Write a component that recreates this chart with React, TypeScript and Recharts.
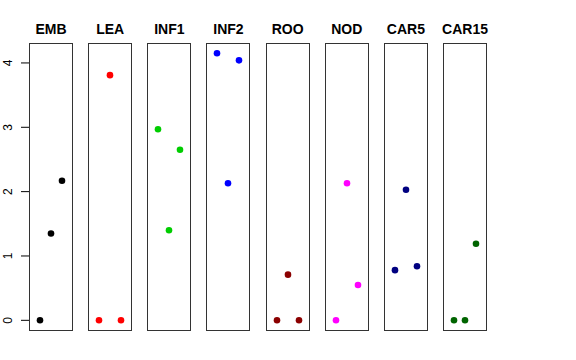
import React from 'react';
import { ScatterChart, Scatter, XAxis, YAxis } from 'recharts';

const panels = ['EMB', 'LEA', 'INF1', 'INF2', 'ROO', 'NOD', 'CAR5', 'CAR15'];
const colors = ['#000000', '#FF0000', '#00CD00', '#0000FF', '#8B0000', '#FF00FF', '#000080', '#006400'];
const rep1 = [0, 0, 2.97, 4.15, 0, 0, 0.78, 0];
const rep2 = [1.35, 3.81, 1.4, 2.13, 0.71, 2.13, 2.03, 0];
const rep3 = [2.17, 0, 2.65, 4.04, 0, 0.55, 0.84, 1.19];
const yTicks = [0, 1, 2, 3, 4];

const PANEL_LEFT = 29;
const PANEL_STEP = 59.15;
const PANEL_W = 44;
const PANEL_TOP = 43;
const PANEL_H = 288;
const Y_DOMAIN: [number, number] = [-0.166, 4.31];
const FONT = '"Liberation Sans", Arial, Helvetica, sans-serif';

const Dot = (props: any) => {
  const { cx, cy, fill } = props;
  return <circle cx={cx} cy={cy} r={3.3} fill={fill} />;
};

const YTick = (props: any) => {
  const { y, payload } = props;
  return (
    <g>
      <line x1={21} x2={29} y1={y} y2={y} stroke="#000" />
      <text
        x={12}
        y={y}
        transform={`rotate(-90, 12, ${y})`}
        textAnchor="middle"
        fontSize={12}
        fontFamily={FONT}
        fill="#000"
      >
        {payload.value}
      </text>
    </g>
  );
};

const Panel = ({ i }: { i: number }) => {
  const data = [
    { x: 1, y: rep1[i] },
    { x: 2, y: rep2[i] },
    { x: 3, y: rep3[i] },
  ];
  const left = PANEL_LEFT + i * PANEL_STEP;
  const first = i === 0;
  const axisW = first ? PANEL_LEFT : 0;
  return (
    <>
      <div
        style={{
          position: 'absolute',
          left: left - 20,
          width: PANEL_W + 40,
          top: 21,
          textAlign: 'center',
          fontFamily: FONT,
          fontWeight: 'bold',
          fontSize: 14,
          lineHeight: '16px',
        }}
      >
        {panels[i]}
      </div>
      <div style={{ position: 'absolute', left: left - axisW, top: PANEL_TOP }}>
        <ScatterChart width={PANEL_W + axisW} height={PANEL_H} margin={{ top: 0, right: 0, bottom: 0, left: 0 }}>
          <XAxis type="number" dataKey="x" domain={[0, 4]} hide />
          <YAxis
            type="number"
            dataKey="y"
            domain={Y_DOMAIN}
            ticks={yTicks}
            hide={!first}
            width={axisW}
            axisLine={false}
            tickLine={false}
            tick={<YTick />}
            allowDataOverflow
          />
          <Scatter data={data} fill={colors[i]} shape={<Dot />} isAnimationActive={false} />
        </ScatterChart>
      </div>
      <div
        style={{
          position: 'absolute',
          left: left,
          top: PANEL_TOP,
          width: PANEL_W,
          height: PANEL_H,
          border: '1px solid #333',
          boxSizing: 'border-box',
          pointerEvents: 'none',
        }}
      />
    </>
  );
};

export default function App() {
  return (
    <div style={{ position: 'absolute', left: 0, top: 0, width: 576, height: 360, background: '#fff' }}>
      {panels.map((_, i) => (
        <Panel key={i} i={i} />
      ))}
    </div>
  );
}
